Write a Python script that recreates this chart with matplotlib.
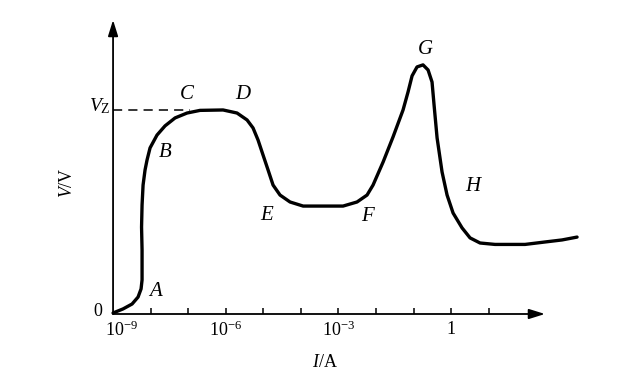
import matplotlib
matplotlib.use("Agg")
import matplotlib.pyplot as plt

# Curve data: current (A) and voltage (in units of V_Z)
current = [1.0e-9, 1.85e-9, 3.21e-9, 4.63e-9, 5.57e-9, 5.92e-9, 5.92e-9, 5.92e-9,
           5.74e-9, 5.92e-9, 6.30e-9, 7.11e-9, 8.04e-9, 9.66e-9, 1.48e-8, 2.42e-8,
           4.48e-8, 9.33e-8, 2.07e-7, 8.49e-7, 2.00e-6, 3.70e-6, 5.33e-6, 7.24e-6,
           9.86e-6, 1.34e-5, 1.82e-5, 2.79e-5, 5.15e-5, 1.15e-4, 1.33e-3, 3.13e-3,
           5.79e-3, 8.36e-3, 1.55e-2, 2.85e-2, 5.26e-2, 7.14e-2, 9.14e-2, 0.124,
           0.179, 0.244, 0.311, 0.352, 0.424, 0.575, 0.782, 1.13, 1.96, 3.20,
           5.90, 14.8, 93.1, 318.0, 902.0, 2260.0]
voltage = [0.005, 0.025, 0.049, 0.083, 0.123, 0.167, 0.240, 0.314,
           0.426, 0.534, 0.632, 0.706, 0.755, 0.814, 0.877, 0.922,
           0.961, 0.985, 0.998, 1.000, 0.985, 0.951, 0.912, 0.853,
           0.779, 0.706, 0.632, 0.583, 0.549, 0.529, 0.529, 0.549,
           0.583, 0.632, 0.745, 0.868, 1.000, 1.088, 1.167, 1.211,
           1.221, 1.196, 1.137, 1.025, 0.863, 0.696, 0.583, 0.495, 0.422, 0.373,
           0.348, 0.341, 0.341, 0.353, 0.363, 0.377]

tick_currents = [1e-8, 1e-7, 1e-6, 1e-5, 1e-4, 1e-3, 1e-2, 1e-1, 1, 10]
tick_label_text = [r"$10^{-9}$", r"$10^{-6}$", r"$10^{-3}$", "1"]
tick_label_pos = [1.63e-9, 1e-6, 1e-3, 1.0]
point_labels = ["A", "B", "C", "D", "E", "F", "G", "H"]
point_current = [1.31e-8, 2.42e-8, 9.33e-8, 2.89e-6, 1.26e-5, 5.79e-3, 0.203, 3.85]
point_voltage = [0.108, 0.794, 1.074, 1.074, 0.485, 0.480, 1.294, 0.623]

plt.rcParams['mathtext.fontset'] = 'custom'
plt.rcParams['mathtext.rm'] = 'Liberation Serif'
plt.rcParams['mathtext.it'] = 'Liberation Serif:italic'
serif = 'Liberation Serif'

fig = plt.figure(figsize=(6.34, 3.85), dpi=100)
ax = fig.add_axes([0, 0, 1, 1])
ax.set_xscale('log')
ax.set_xlim(10 ** -12.01, 10 ** 4.87)
ax.set_ylim(-0.348, 1.539)
ax.axis('off')

arrow = dict(arrowstyle='-|>,head_length=0.8,head_width=0.25',
             color='black', lw=1.3, mutation_scale=12, shrinkA=0, shrinkB=0)
ax.annotate('', xy=(10 ** 2.5, 0), xytext=(1e-9, 0), arrowprops=arrow)
ax.annotate('', xy=(1e-9, 1.441), xytext=(1e-9, 0), arrowprops=arrow)

for t in tick_currents:
    ax.plot([t, t], [0, 0.03], color='black', lw=1.1, solid_capstyle='butt')

for x, lab in zip(tick_label_pos, tick_label_text):
    ax.text(x, -0.078, lab, ha='center', va='center', fontsize=13, family=serif)

ax.text(10 ** -9.4, 0.01, "0", ha='center', va='center', fontsize=13, family=serif)
ax.text(10 ** -9.35, 1.02, r"$V_{\mathrm{Z}}$", ha='center', va='center',
        fontsize=14, family=serif)
ax.text(10 ** -10.225, 0.642, r"$V$/V", ha='center', va='center', fontsize=13,
        rotation=90, family=serif)
ax.text(4.4e-4, -0.240, r"$I$/A", ha='center', va='center', fontsize=13,
        family=serif)

ax.plot([1e-9, 10 ** -6.95], [1.0, 1.0], color='black', lw=1.1, dashes=(6, 4))

ax.plot(current, voltage, color='black', lw=2.4, solid_capstyle='round',
        solid_joinstyle='round')

for lab, x, y in zip(point_labels, point_current, point_voltage):
    ax.text(x, y, lab, ha='center', va='center', fontsize=15, family=serif,
            style='italic')

fig.savefig('out.png', dpi=100)
